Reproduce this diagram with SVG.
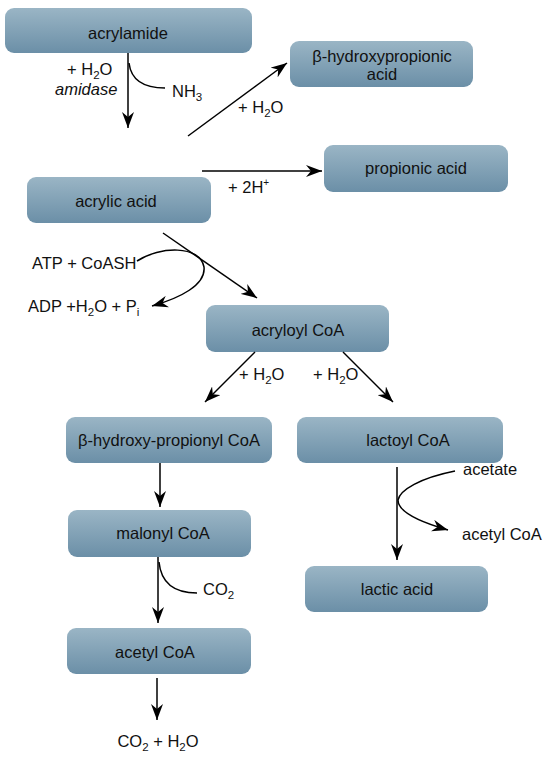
<svg xmlns="http://www.w3.org/2000/svg" width="550" height="761" viewBox="0 0 550 761">
<defs>
<linearGradient id="g" x1="0" y1="0" x2="0" y2="1">
<stop offset="0" stop-color="#9ab5c5"/>
<stop offset="1" stop-color="#6b8fa7"/>
</linearGradient>
<marker id="ah" markerUnits="userSpaceOnUse" markerWidth="16" markerHeight="12" viewBox="0 0 16 12" refX="16" refY="6" orient="auto">
<path d="M0,0 L16,6 L0,12 L5,6 z" fill="#000"/>
</marker>
<style>
.box{fill:url(#g);}
text{font-family:"Liberation Sans",Arial,sans-serif;font-size:16.5px;fill:#111;}
.c{text-anchor:middle;}
.ln{stroke:#000;stroke-width:1.5;fill:none;}
.ar{marker-end:url(#ah);}
</style>
</defs>
<rect width="550" height="761" fill="#fff"/>
<g id="acrylamide"><rect class="box" x="5" y="8" width="247" height="45" rx="9"/><text class="c" x="128" y="39">acrylamide</text></g>
<g id="hydroxypropionic-acid"><rect class="box" x="290" y="41" width="183" height="46" rx="9"/><text class="c" x="382" y="62">β-hydroxypropionic</text><text class="c" x="382" y="80">acid</text></g>
<g id="propionic-acid"><rect class="box" x="324" y="145" width="184" height="47" rx="9"/><text class="c" x="416" y="174">propionic acid</text></g>
<g id="acrylic-acid"><rect class="box" x="27" y="177" width="184" height="46" rx="9"/><text class="c" x="116" y="207">acrylic acid</text></g>
<g id="acryloyl-coa"><rect class="box" x="206" y="305" width="183" height="47" rx="9"/><text class="c" x="298" y="336">acryloyl CoA</text></g>
<g id="hydroxypropionyl-coa"><rect class="box" x="66" y="417" width="206" height="46" rx="9"/><text class="c" x="169" y="446">β-hydroxy-propionyl CoA</text></g>
<g id="lactoyl-coa"><rect class="box" x="297" y="417" width="206" height="46" rx="9"/><text class="c" x="408" y="446">lactoyl CoA</text></g>
<g id="malonyl-coa"><rect class="box" x="68" y="510" width="183" height="47" rx="9"/><text class="c" x="163" y="539">malonyl CoA</text></g>
<g id="lactic-acid"><rect class="box" x="305" y="566" width="183" height="46" rx="9"/><text class="c" x="397" y="595">lactic acid</text></g>
<g id="acetyl-coa"><rect class="box" x="67" y="628" width="184" height="46" rx="9"/><text class="c" x="155" y="658">acetyl CoA</text></g>
<g id="connectors">
<line class="ln ar" x1="128" y1="53" x2="128" y2="128"/>
<path class="ln" d="M129,63 Q132,88 165,88"/>
<line class="ln ar" x1="188" y1="136" x2="287" y2="63"/>
<line class="ln ar" x1="202" y1="171" x2="322" y2="171"/>
<line class="ln ar" x1="163" y1="233" x2="257" y2="298"/>
<path class="ln ar" d="M137,261 C160,246 200,245 204,267 C206,285 180,298 152,306"/>
<line class="ln ar" x1="255" y1="352" x2="205" y2="402"/>
<line class="ln ar" x1="343" y1="352" x2="393" y2="402"/>
<line class="ln ar" x1="160" y1="463" x2="160" y2="507"/>
<line class="ln ar" x1="158" y1="557" x2="158" y2="623"/>
<path class="ln" d="M159,562 Q162,593 197,593"/>
<line class="ln ar" x1="157" y1="678" x2="157" y2="720"/>
<line class="ln ar" x1="397" y1="467" x2="397" y2="560"/>
<path class="ln ar" d="M455,471 C420,478 400,490 398,500 C398,512 420,522 448,530"/>
</g>
<g id="labels">
<text x="67" y="75">+ H<tspan dy="4" font-size="11.5">2</tspan><tspan dy="-4">O</tspan></text>
<text x="55" y="95" font-style="italic">amidase</text>
<text x="172" y="97">NH<tspan dy="4" font-size="11.5">3</tspan></text>
<text x="238" y="113">+ H<tspan dy="4" font-size="11.5">2</tspan><tspan dy="-4">O</tspan></text>
<text x="228" y="193">+ 2H<tspan dy="-7" font-size="10">+</tspan></text>
<text x="32" y="269">ATP + CoASH</text>
<text x="28" y="312">ADP +H<tspan dy="4" font-size="11.5">2</tspan><tspan dy="-4">O  + P</tspan><tspan dy="4" font-size="11.5">i</tspan></text>
<text x="239" y="380">+ H<tspan dy="4" font-size="11.5">2</tspan><tspan dy="-4">O</tspan></text>
<text x="313" y="380">+ H<tspan dy="4" font-size="11.5">2</tspan><tspan dy="-4">O</tspan></text>
<text x="203" y="595">CO<tspan dy="4" font-size="11.5">2</tspan></text>
<text x="463" y="475">acetate</text>
<text x="462" y="540">acetyl CoA</text>
<text class="c" x="158" y="747">CO<tspan dy="4" font-size="11.5">2</tspan><tspan dy="-4"> + H</tspan><tspan dy="4" font-size="11.5">2</tspan><tspan dy="-4">O</tspan></text>
</g>
</svg>
